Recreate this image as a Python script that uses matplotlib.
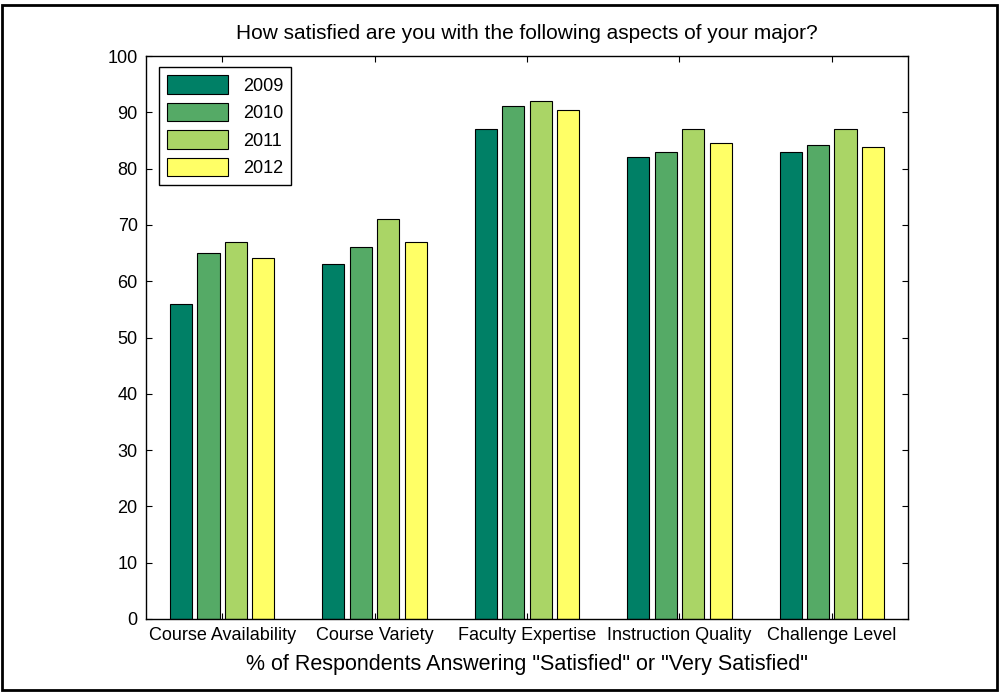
import numpy as np
import matplotlib.pyplot as plt
from matplotlib.patches import Rectangle

plt.rcParams['font.family'] = ['Liberation Sans', 'DejaVu Sans']

# Data
categories = ['Course Availability', 'Course Variety', 'Faculty Expertise',
              'Instruction Quality', 'Challenge Level']
years = ['2009', '2010', '2011', '2012']
v2009 = [56, 63, 87, 82, 83]
v2010 = [65, 66, 91.2, 83, 84.2]
v2011 = [67, 71, 92.1, 87, 87]
v2012 = [64.2, 67, 90.4, 84.5, 83.9]
series = [v2009, v2010, v2011, v2012]

# MATLAB "summer" colormap, 4 steps
colors = [(0, 0.5, 0.4), (1/3, 2/3, 0.4), (2/3, 5/6, 0.4), (1, 1, 0.4)]

fig = plt.figure(figsize=(10.04, 6.92), dpi=100)
ax = fig.add_axes([0.1454, 0.1055, 0.759, 0.8135])

x = np.arange(1, len(categories) + 1)
width = 0.145
offsets = [-0.27, -0.09, 0.09, 0.27]
for vals, off, c, yr in zip(series, offsets, colors, years):
    ax.bar(x + off, vals, width, color=c, edgecolor='black', linewidth=0.8, label=yr)

ax.set_xlim(0.5, 5.5)
ax.set_ylim(0, 100)
ax.set_yticks(range(0, 101, 10))
ax.set_xticks(x)
ax.set_xticklabels(categories, fontsize=13)
ax.tick_params(axis='y', labelsize=13, direction='in', right=True, length=4, pad=6)
ax.tick_params(axis='x', direction='in', top=True, length=4, pad=6)
for s in ax.spines.values():
    s.set_linewidth(1.0)

ax.set_title('How satisfied are you with the following aspects of your major?',
             fontsize=15, pad=12)
ax.set_xlabel('% of Respondents Answering "Satisfied" or "Very Satisfied"',
              fontsize=15.5, labelpad=7)

leg = ax.legend(loc='upper left', bbox_to_anchor=(0.017, 0.98), fontsize=13,
                handlelength=3.4, handleheight=1.2, fancybox=False,
                framealpha=1, edgecolor='black', borderpad=0.45,
                labelspacing=0.45, handletextpad=0.8, borderaxespad=0)
leg.get_frame().set_linewidth(1.0)

# border around the whole figure
fig.patches.append(Rectangle((0.002, 0.003), 0.991, 0.99, transform=fig.transFigure,
                             fill=False, edgecolor='black', linewidth=2))

fig.savefig('out.png', dpi=100)
